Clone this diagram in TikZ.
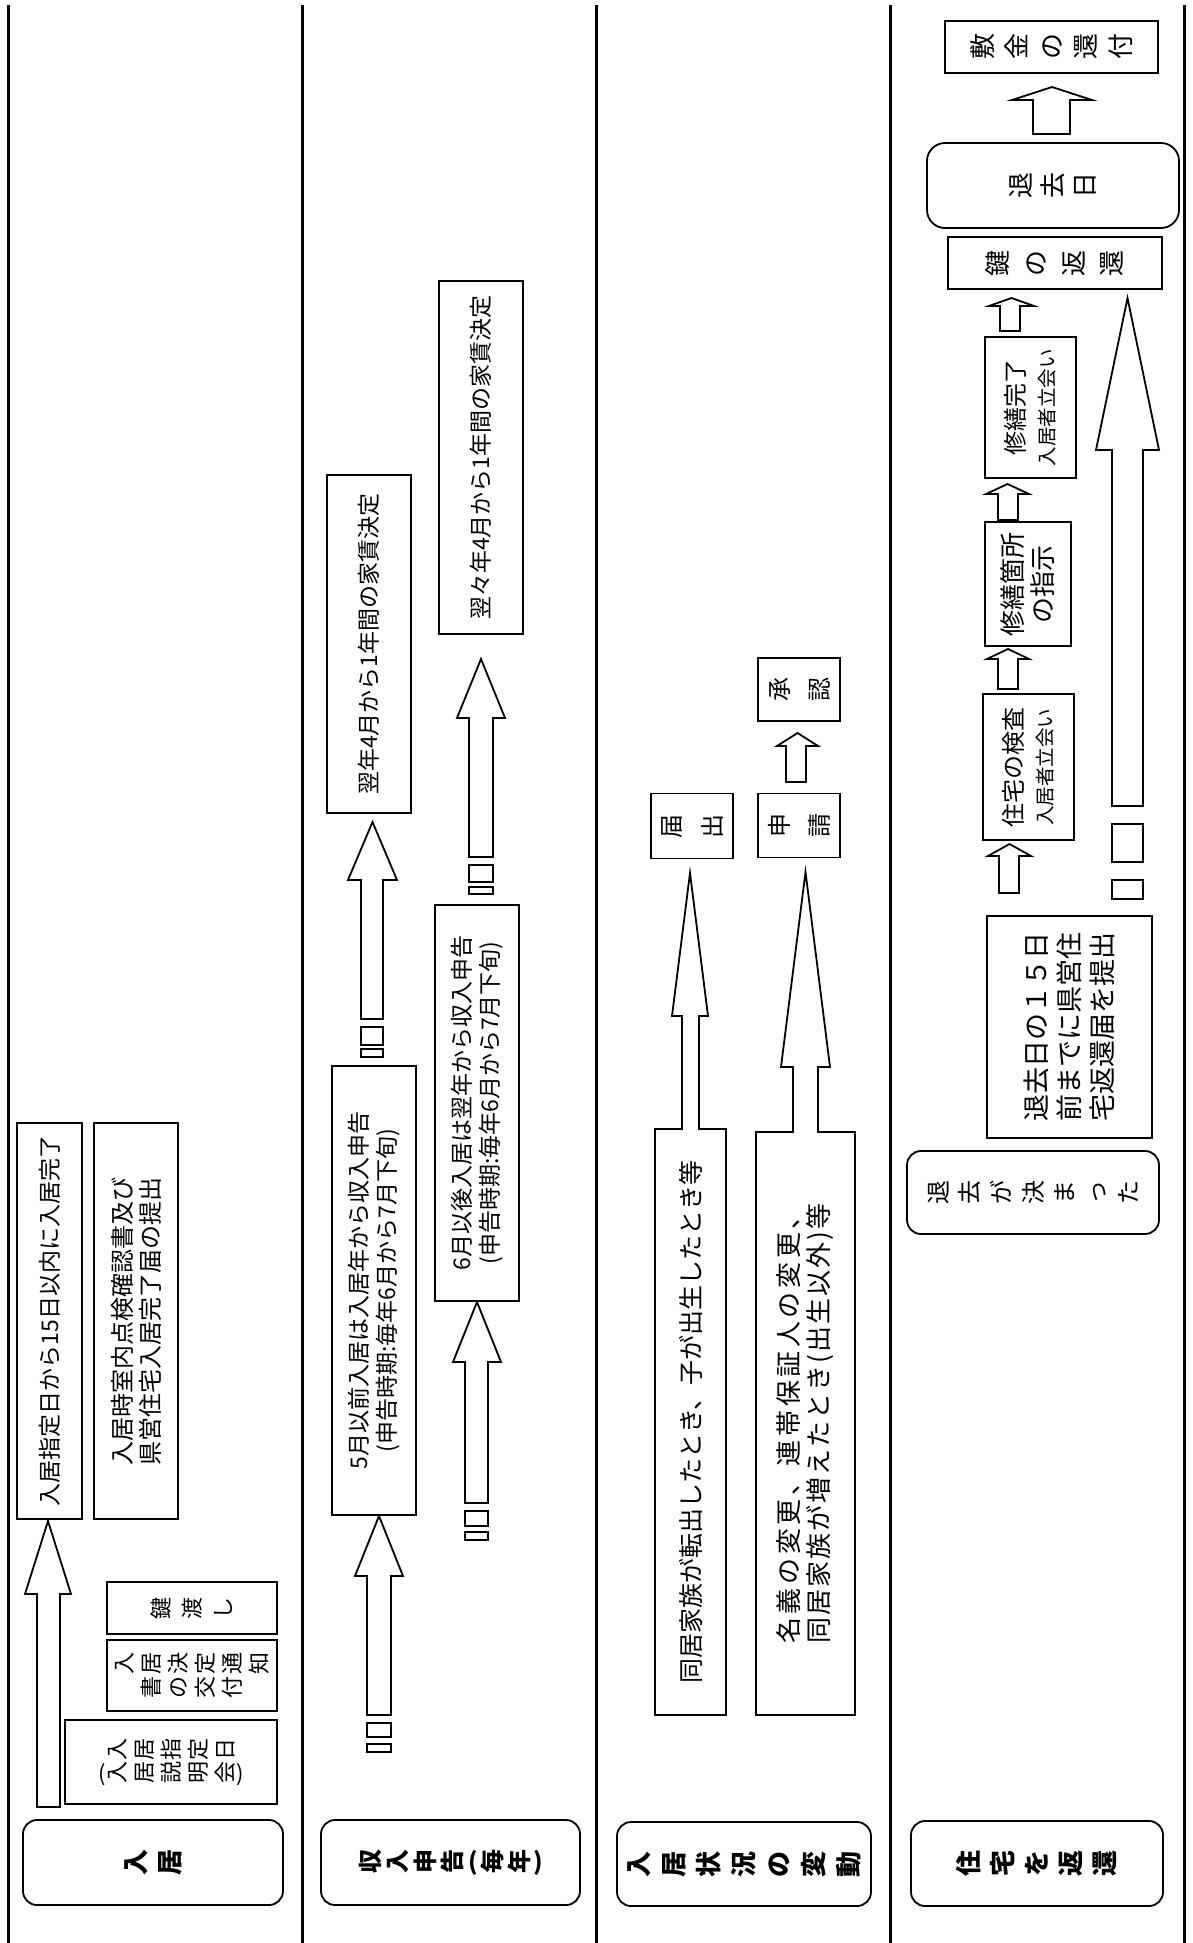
\documentclass[tikz,border=0pt]{standalone}
\usepackage{fontspec}
\setmainfont{Noto Sans CJK JP}
\usepackage{graphicx}
\makeatletter
\newif\iftcfirst
\newcommand\tate[2][0pt]{\tcfirsttrue\@tfor\tc@c:=#2\do{\iftcfirst\tcfirstfalse\else\hspace*{#1}\fi\rotatebox[origin=c]{90}{\makebox[1em]{\rule[-0.12em]{0pt}{1em}\tc@c}}}}
\newcommand\spr[2][0pt]{\tcfirsttrue\@tfor\tc@c:=#2\do{\iftcfirst\tcfirstfalse\else\hspace*{#1}\fi\tc@c}}
\makeatother
\newcommand\barrow[7]{\draw[arr] (#1,#3) -- (#1,#4) -- (#5,#4) -- ({(#5+#6)/2},#7) -- (#6,#4) -- (#2,#4) -- (#2,#3) -- cycle;}
\newcommand\marrow[7]{\fill[white] (#1+1,#3-1.5) rectangle (#2-1,#3+1.5);
  \draw[arrl] (#1,#3) -- (#1,#4) -- (#5,#4) -- ({(#5+#6)/2},#7) -- (#6,#4) -- (#2,#4) -- (#2,#3);}
\newcommand\piece[3]{\draw[arr] (#1,#2) rectangle (#3);}
\tikzset{
  bx/.style={draw, line width=1.8pt, inner sep=0pt, align=center},
  rb/.style={bx, rounded corners=14pt},
  hd/.style={rb, font=\fontsize{26}{30}\selectfont\bfseries},
  arr/.style={draw, line width=1.8pt, fill=white, line join=miter},
  arrl/.style={draw, line width=1.8pt, line join=miter},
  dv/.style={line width=3pt}
}
\begin{document}
\begin{tikzpicture}[x=1pt,y=-1pt]
\useasboundingbox (0,0) rectangle (1192,1943);
% dividers
\draw[dv] (8,5) -- (8,1943);
\draw[dv] (302,5) -- (302,1943);
\draw[dv] (596,5) -- (596,1943);
\draw[dv] (890,5) -- (890,1943);
\draw[dv] (1184,5) -- (1184,1943);

% ---------- column 1 : 入居
\node[hd, minimum width=260pt, minimum height=85pt] (h1) at (153,1862.5) {\tate[8pt]{入居}};
\node[bx, minimum width=212pt, minimum height=84pt, font=\fontsize{22}{23}\selectfont] (c1) at (171,1762) {\tate[5pt]{入居指定日}\\(\tate[5pt]{入居説明会})};
\node[bx, minimum width=170pt, minimum height=71pt, font=\fontsize{22}{24}\selectfont] (d1) at (192,1675.5) {\tate[5pt]{入居決定通知}\\\tate[5pt]{書の交付}};
\node[bx, minimum width=170pt, minimum height=52pt, font=\fontsize{22}{24}\selectfont] (e1) at (192,1608) {\tate[9pt]{鍵渡し}};
\node[bx, rotate=90, minimum width=396pt, minimum height=65pt, font=\fontsize{23}{28}\selectfont] (a1) at (49.5,1321) {入居指定日から15日以内に入居完了};
\node[bx, rotate=90, minimum width=396pt, minimum height=84pt, font=\fontsize{24}{28}\selectfont] (b1) at (136,1321) {入居時室内点検確認書及び\\県営住宅入居完了届の提出};
\barrow{37}{60}{1807}{1594}{25}{71}{1521}

% ---------- column 2 : 収入申告
\node[hd, minimum width=259pt, minimum height=85pt, font=\fontsize{24}{30}\selectfont\bfseries] (h2) at (450.5,1862.5) {\tate[3.5pt]{収入申告}\hspace{4pt}(\hspace{2pt}\tate[3.5pt]{毎年}\hspace{2pt})};
\node[bx, rotate=90, minimum width=449pt, minimum height=84pt, font=\fontsize{23}{28}\selectfont] (f2) at (374,1290.5) {5月以前入居は入居年から収入申告\\(申告時期:毎年6月から7月下旬)};
\node[bx, rotate=90, minimum width=338pt, minimum height=84pt, font=\fontsize{23}{28}\selectfont] (hh2) at (369,644) {翌年4月から1年間の家賃決定};
\node[bx, rotate=90, minimum width=396pt, minimum height=84pt, font=\fontsize{23}{28}\selectfont] (g2) at (477,1103) {6月以後入居は翌年から収入申告\\(申告時期:毎年6月から7月下旬)};
\node[bx, rotate=90, minimum width=353pt, minimum height=84pt, font=\fontsize{23}{28}\selectfont] (i2) at (481,457.5) {翌々年4月から1年間の家賃決定};
% arrow into f2
\barrow{367}{391}{1715}{1576}{355}{403}{1516}
\piece{367}{1723}{391,1737}
\piece{367}{1744}{391,1752}
% arrow f2 -> hh2
\barrow{361}{383}{1019}{880}{348}{397}{822}
\piece{361}{1027}{383,1045}
\piece{361}{1049}{383,1057}
% arrow into g2
\barrow{465}{488}{1503}{1362}{453}{501}{1302}
\piece{465}{1511}{488,1526}
\piece{465}{1532}{488,1540}
% arrow g2 -> i2
\barrow{469}{493}{857}{718}{457}{505}{659}
\piece{469}{865}{493,882}
\piece{469}{887}{493,894}

% ---------- column 3 : 入居状況の変動
\node[hd, minimum width=254pt, minimum height=84pt] (h3) at (744,1864) {\tate[9pt]{入居状況の変動}};
\node[bx, rotate=90, minimum width=586pt, minimum height=71pt, font=\fontsize{25}{30}\selectfont] (j3) at (690.5,1422) {同居家族が転出したとき、子が出生したとき等};
\node[bx, rotate=90, minimum width=583pt, minimum height=99pt, font=\fontsize{26}{30}\selectfont] (k3) at (805.5,1423.5) {\spr[3.6pt]{名義の変更、連帯保証人の変更、}\\\spr[2pt]{同居家族が増えたとき(出生以外)等}};
\node[bx, minimum width=82pt, minimum height=65pt, font=\fontsize{24}{28}\selectfont] (t3) at (692,826) {\tate[17pt]{届出}};
\node[bx, minimum width=82pt, minimum height=64pt, font=\fontsize{24}{28}\selectfont] (s3) at (799,825.5) {\tate[16pt]{申請}};
\node[bx, minimum width=82pt, minimum height=63pt, font=\fontsize{24}{28}\selectfont] (n3) at (799,689.5) {\tate[16pt]{承認}};
\marrow{682}{699}{1129}{1016}{672}{708}{873}
\marrow{793}{818}{1132}{1067}{781}{830}{872}
\barrow{786}{806}{782}{746}{777}{818}{733}

% ---------- column 4 : 住宅を返還
\node[hd, minimum width=252pt, minimum height=85pt] (h4) at (1037,1863.5) {\tate[8pt]{住宅を返還}};
\node[rb, minimum width=252pt, minimum height=83pt, font=\fontsize{24}{28}\selectfont] (q4) at (1033,1192.5) {\tate[7.7pt]{退去が決まった}};
\node[bx, rotate=90, minimum width=222pt, minimum height=165pt, font=\fontsize{27}{33}\selectfont] (p4) at (1069.5,1027) {退去日の１５日\\前までに県営住\\宅返還届を提出};
\node[bx, rotate=90, minimum width=146pt, minimum height=91pt, font=\fontsize{24}{30}\selectfont] (k4) at (1028.5,767) {住宅の検査\\{\fontsize{19.5}{22}\selectfont 入居者立会い}};
\node[bx, rotate=90, minimum width=124pt, minimum height=86pt, font=\fontsize{26}{30}\selectfont] (r4) at (1028,584) {修繕箇所\\の指示};
\node[bx, rotate=90, minimum width=141pt, minimum height=91pt, font=\fontsize{24}{30}\selectfont] (m4) at (1030.5,407.5) {修繕完了\\{\fontsize{19.5}{22}\selectfont 入居者立会い}};
\node[bx, minimum width=214pt, minimum height=52pt, font=\fontsize{26}{30}\selectfont] (kk4) at (1055,263) {\tate[12pt]{鍵の返還}};
\node[rb, rounded corners=18pt, minimum width=252pt, minimum height=85pt, font=\fontsize{26}{30}\selectfont] (d4) at (1053,185.5) {\tate[6pt]{退去日}};
\node[bx, minimum width=213pt, minimum height=52pt, font=\fontsize{26}{30}\selectfont] (s4) at (1051.5,47) {\tate[8.5pt]{敷金の還付}};
% big arrow
\barrow{1112}{1143}{806}{450}{1096}{1159}{298}
\piece{1112}{824}{1143,862}
\piece{1112}{880}{1143,899}
% small arrows
\barrow{999}{1019}{893}{856}{988}{1031}{844}
\barrow{998}{1018}{689}{659}{987}{1029}{649}
\barrow{998}{1018}{520}{494}{986}{1029}{484}
\barrow{1000}{1020}{331}{306}{989}{1034}{298}
\barrow{1033}{1070}{134}{100}{1012}{1092}{87}
\end{tikzpicture}
\end{document}
